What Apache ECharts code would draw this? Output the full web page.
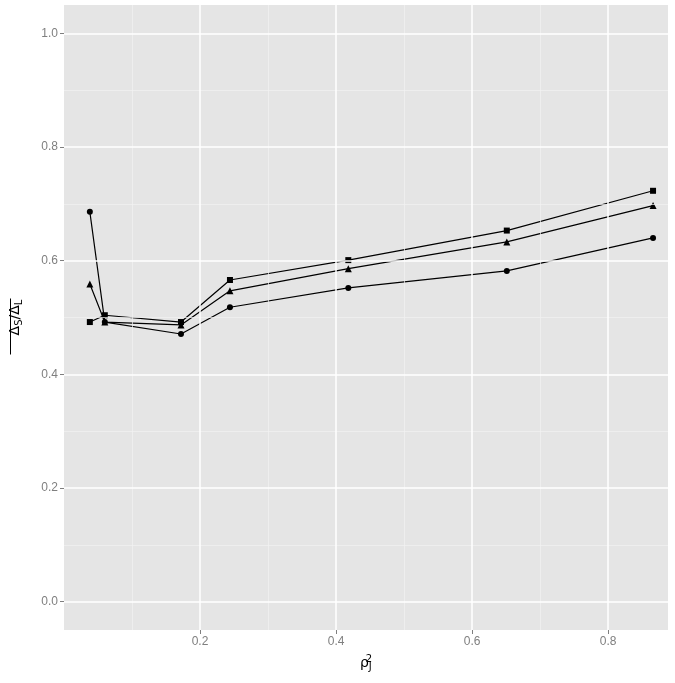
<!DOCTYPE html>
<html>
<head>
<meta charset="utf-8">
<script src="https://cdn.jsdelivr.net/npm/echarts@6/dist/echarts.min.js"></script>
<style>html,body{margin:0;padding:0;background:#fff}#chart{width:675px;height:683px}</style>
</head>
<body>
<div id="chart"></div>
<script>
// 数据
var xVals = [0.038, 0.060, 0.172, 0.244, 0.418, 0.651, 0.866];
var circleVals = [0.686, 0.492, 0.471, 0.518, 0.552, 0.582, 0.640];
var triangleVals = [0.559, 0.492, 0.487, 0.547, 0.586, 0.633, 0.697];
var squareVals = [0.492, 0.504, 0.492, 0.566, 0.601, 0.653, 0.723];
var xTicks = [0.2, 0.4, 0.6, 0.8];
var xMinor = [0.1, 0.3, 0.5, 0.7];
var yTicks = [0, 0.2, 0.4, 0.6, 0.8, 1.0];
var yMinor = [0.1, 0.3, 0.5, 0.7, 0.9];

function pairs(ys) {
    return xVals.map(function (x, i) { return [x, ys[i]]; });
}

var chart = echarts.init(document.getElementById('chart'));
var gray = '#7F7F7F';
var bg = '#E5E5E5';
var minorCol = '#F2F2F2';

function mkSeries(ys, sym, size) {
    return {
        type: 'line',
        data: pairs(ys),
        symbol: sym,
        symbolSize: size,
        animation: false,
        z: 3,
        lineStyle: { color: '#000', width: 1.2 },
        itemStyle: { color: '#000' }
    };
}

// 网格线: 用 markLine 画
function gridLines(vals, key, color, width) {
    return vals.map(function (v) {
        var o = { lineStyle: { color: color, width: width, type: 'solid' } };
        o[key] = v;
        return o;
    });
}

var option = {
    backgroundColor: '#fff',
    grid: { left: 63, top: 5, right: 7, bottom: 53, backgroundColor: bg, show: true, borderWidth: 0 },
    xAxis: {
        type: 'value', min: 0, max: 0.888,
        axisLine: { show: true, onZero: false, lineStyle: { color: 'rgba(0,0,0,0)' } },
        axisTick: { show: true, inside: false, length: 4, lineStyle: { color: gray, width: 1 }, customValues: xTicks },
        axisLabel: { color: gray, fontSize: 12, fontFamily: 'Liberation Sans', margin: 6,
            customValues: xTicks, formatter: function (v) { return v.toFixed(1); } },
        splitLine: { show: false },
        name: '{a|ρ}{s|J}{p|2}', nameLocation: 'middle', nameGap: 24,
        nameTextStyle: { rich: {
            a: { fontSize: 14, fontFamily: 'DejaVu Sans', color: '#000' },
            s: { fontSize: 10, fontFamily: 'DejaVu Sans', color: '#000', verticalAlign: 'bottom', padding: [8, 0, 0, 0] },
            p: { fontSize: 10, fontFamily: 'DejaVu Sans', color: '#000', verticalAlign: 'top', padding: [0, 0, 8, -6] }
        } }
    },
    yAxis: {
        type: 'value', min: -0.05, max: 1.05,
        axisLine: { show: true, onZero: false, lineStyle: { color: 'rgba(0,0,0,0)' } },
        axisTick: { show: true, inside: false, length: 4, lineStyle: { color: gray, width: 1 }, customValues: yTicks },
        axisLabel: { color: gray, fontSize: 12, fontFamily: 'Liberation Sans', margin: 6,
            customValues: yTicks, formatter: function (v) { return v.toFixed(1); } },
        splitLine: { show: false },
        name: '{o|Δ}{s|S}{o|/Δ}{s|L}', nameLocation: 'middle', nameGap: 40, nameRotate: 90,
        nameTextStyle: { rich: {
            o: { fontSize: 14, fontFamily: 'DejaVu Sans', color: '#000' },
            s: { fontSize: 10, fontFamily: 'DejaVu Sans', color: '#000', verticalAlign: 'bottom', padding: [8, 0, 0, 0] }
        } }
    },
    graphic: [{
        type: 'line', left: 8, top: 296,
        shape: { x1: 0, y1: 0, x2: 0, y2: 56 },
        style: { stroke: '#000', lineWidth: 1 }
    }],
    series: [
        {
            type: 'line', data: [], z: 1, silent: true,
            markLine: {
                symbol: 'none', silent: true, animation: false, label: { show: false },
                data: [].concat(
                    gridLines(xMinor, 'xAxis', minorCol, 0.7),
                    gridLines(yMinor, 'yAxis', minorCol, 0.7),
                    gridLines(xTicks, 'xAxis', '#fff', 1.5),
                    gridLines(yTicks, 'yAxis', '#fff', 1.5)
                )
            }
        },
        mkSeries(circleVals, 'circle', 6),
        mkSeries(triangleVals, 'triangle', 7),
        mkSeries(squareVals, 'rect', 6)
    ]
};
chart.setOption(option);
</script>
</body>
</html>
